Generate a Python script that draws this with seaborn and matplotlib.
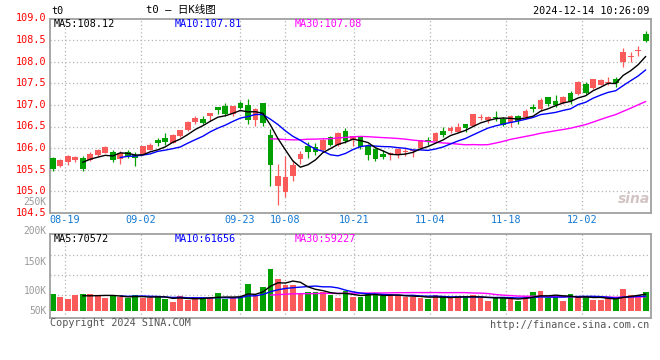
import numpy as np
import pandas as pd
import matplotlib
matplotlib.use("Agg")
import matplotlib.pyplot as plt
import matplotlib.transforms as mtransforms
import seaborn as sns

# ---------------- data ----------------
opens = [105.77, 105.58, 105.67, 105.72, 105.78, 105.73, 105.85, 105.89, 105.92, 105.75,
         105.92, 105.85, 105.87, 105.96, 106.18, 106.24, 106.12, 106.27, 106.41, 106.61,
         106.67, 106.75, 106.95, 106.97, 106.78, 107.05, 107.00, 106.65, 107.04, 106.31,
         105.12, 104.98, 105.36, 105.74, 106.05, 106.02, 105.96, 106.25, 106.08, 106.40,
         106.19, 106.25, 106.04, 105.97, 105.87, 105.84, 105.86, 105.91, 105.93, 106.00,
         106.20, 106.17, 106.39, 106.39, 106.38, 106.56, 106.52, 106.69, 106.65, 106.72,
         106.67, 106.58, 106.75, 106.73, 106.95, 106.90, 107.18, 107.08, 107.05, 107.28,
         107.25, 107.48, 107.40, 107.46, 107.50, 107.59, 108.00, 108.10, 108.25, 108.64]
highs = [105.79, 105.75, 105.84, 105.81, 105.82, 105.92, 105.98, 106.05, 105.96, 105.93,
         105.95, 105.90, 106.06, 106.12, 106.24, 106.35, 106.33, 106.42, 106.62, 106.75,
         106.75, 106.82, 106.96, 107.05, 106.98, 107.08, 107.14, 106.92, 107.05, 106.44,
         105.63, 105.81, 105.72, 105.94, 106.15, 106.12, 106.23, 106.28, 106.37, 106.47,
         106.29, 106.28, 106.10, 106.00, 105.95, 105.90, 106.00, 106.00, 106.00, 106.20,
         106.26, 106.37, 106.50, 106.52, 106.58, 106.57, 106.80, 106.78, 106.75, 106.85,
         106.72, 106.76, 106.76, 106.90, 107.02, 107.16, 107.19, 107.23, 107.21, 107.33,
         107.55, 107.52, 107.60, 107.59, 107.64, 107.64, 108.32, 108.23, 108.36, 108.72]
lows = [105.48, 105.56, 105.61, 105.69, 105.48, 105.71, 105.83, 105.88, 105.69, 105.64,
        105.77, 105.58, 105.86, 105.95, 106.06, 106.07, 106.11, 106.26, 106.40, 106.57,
        106.55, 106.64, 106.78, 106.75, 106.75, 106.90, 106.57, 106.52, 106.52, 105.12,
        104.68, 104.87, 105.25, 105.64, 105.77, 105.85, 105.92, 106.04, 106.06, 106.13,
        106.06, 105.98, 105.73, 105.70, 105.75, 105.72, 105.77, 105.83, 105.80, 105.98,
        106.08, 106.14, 106.26, 106.35, 106.37, 106.38, 106.51, 106.65, 106.59, 106.62,
        106.52, 106.50, 106.56, 106.67, 106.84, 106.87, 106.98, 106.95, 107.02, 107.02,
        107.23, 107.25, 107.38, 107.45, 107.45, 107.42, 107.88, 108.00, 108.13, 108.45]
closes = [105.52, 105.72, 105.81, 105.80, 105.52, 105.87, 105.96, 106.02, 105.73, 105.88,
          105.81, 105.77, 106.04, 106.08, 106.11, 106.15, 106.30, 106.41, 106.61, 106.69,
          106.59, 106.81, 106.88, 106.78, 106.97, 106.92, 106.65, 106.90, 106.59, 105.62,
          105.36, 105.33, 105.62, 105.87, 105.90, 105.92, 106.18, 106.08, 106.35, 106.16,
          106.27, 106.02, 105.85, 105.75, 105.79, 105.88, 105.97, 105.93, 105.95, 106.19,
          106.15, 106.35, 106.31, 106.46, 106.48, 106.46, 106.79, 106.73, 106.73, 106.70,
          106.54, 106.75, 106.64, 106.87, 106.90, 107.12, 107.03, 107.00, 107.18, 107.08,
          107.52, 107.28, 107.59, 107.58, 107.53, 107.50, 108.22, 108.13, 108.28, 108.48]
# volume in lots
volumes = [71000, 58000, 50000, 67000, 71000, 71000, 61000, 55000, 67000, 58000,
           53000, 67000, 55000, 55000, 64000, 51000, 38000, 64000, 44000, 58000,
           54000, 54000, 75000, 50000, 57000, 60000, 114000, 67000, 101000, 177000,
           135000, 109000, 109000, 75000, 81000, 81000, 81000, 67000, 55000, 84000,
           60000, 58000, 77000, 67000, 61000, 66000, 63000, 60000, 60000, 55000,
           50400, 64700, 57100, 52300, 63700, 57100, 64700, 55200, 42800, 54200,
           54200, 54200, 42800, 57100, 79900, 83700, 52300, 58000, 42800, 73050,
           60100, 60100, 44900, 44900, 53700, 47700, 91400, 66600, 66600, 80560]
date_ticks_idx = [2, 12, 25, 31, 40, 50, 60, 70]
date_ticks_lbl = ["08-19", "09-02", "09-23", "10-08", "10-21", "11-04", "11-18", "12-02"]
price_ticks = [104.5, 105.0, 105.5, 106.0, 106.5, 107.0, 107.5, 108.0, 108.5, 109.0]
vol_labels = ["250K", "200K", "150K", "100K", "50K"]
title_text = "t0 \u2013 日K线图"
symbol_text = "t0"
stamp_text = "2024-12-14 10:26:09"

# ---------------- styling ----------------
sns.set_theme(style="white")
plt.rcParams["font.family"] = ["DejaVu Sans Mono", "Noto Sans CJK SC"]

RED = "#FA5A5A"
GREEN = "#00A000"
GRID = "#B4B4B4"
BORDER = "#A0A0A0"
FS = 7.3

W, H = 660, 360
fig = plt.figure(figsize=(W / 100, H / 100), dpi=100)
fig.patch.set_facecolor("white")


def fx(px):
    return px / W


def fy(py):
    return 1 - py / H


L, R = 50.5, 650.5
P_TOP, P_BOT = 18.5, 213.0
V_TOP, V_BOT = 234.3, 318.3
ax = fig.add_axes([fx(L), fy(P_BOT), (R - L) / W, (P_BOT - P_TOP) / H])
axv = fig.add_axes([fx(L), fy(V_BOT), (R - L) / W, (V_BOT - V_TOP) / H])

df = pd.DataFrame({"o": opens, "h": highs, "l": lows, "c": closes,
                   "v": np.array(volumes, dtype=float) / 1000.0})
df["i"] = np.arange(len(df))
df["up"] = df["c"] >= df["o"]
df["col"] = np.where(df["up"], RED, GREEN)

step = 7.506  # px per candle
x0 = -(52.7 - L) / step
x1 = len(df) - 1 + (R - 645.7) / step

grid_x = [1.6 + 1.013 * (k - 2) for k in date_ticks_idx]

for a in (ax, axv):
    a.set_xlim(x0, x1)
    for s in a.spines.values():
        s.set_color(BORDER)
        s.set_linewidth(1.3)
    a.set_facecolor("white")
    for gx in grid_x:
        a.axvline(gx, color=GRID, lw=0.9, ls=(0, (1, 2)), zorder=0)

# ---------- price panel ----------
ax.set_ylim(104.5, 109.0)
for p in price_ticks[1:-1]:
    ax.axhline(p, color=GRID, lw=0.9, ls=(0, (1, 2)), zorder=0)
ax.set_yticks(price_ticks)
ax.set_yticklabels([f"{p:.1f}" for p in price_ticks], color="#FF0000", fontsize=FS)
ax.tick_params(axis="y", length=0, pad=3)
up_shift = mtransforms.ScaledTranslation(0, 1.2 / 100, fig.dpi_scale_trans)
for lab in ax.get_yticklabels():
    lab.set_transform(lab.get_transform() + up_shift)
ax.set_xticks(grid_x)
ax.set_xticklabels(date_ticks_lbl, color="#1478D2", fontsize=FS)
ax.tick_params(axis="x", length=0, pad=1.5)

body_w = 0.76
min_h = 0.022
ax.vlines(df["i"], df["l"], df["h"], colors=df["col"], lw=0.9, zorder=2)
bodies = np.maximum((df["c"] - df["o"]).abs(), min_h)
ax.bar(df["i"], bodies, bottom=np.minimum(df["o"], df["c"]), width=body_w,
       color=df["col"], linewidth=0, zorder=3)

ma = pd.DataFrame({"i": df["i"]})
ma["MA5"] = df["c"].rolling(5).mean()
ma["MA10"] = df["c"].rolling(10).mean()
ma["MA30"] = df["c"].rolling(30).mean()
for name, colr in (("MA30", "#FF00FF"), ("MA10", "#0000FF"), ("MA5", "#000000")):
    sns.lineplot(data=ma.dropna(subset=[name]), x="i", y=name, ax=ax, color=colr,
                 lw=1.0, zorder=4, legend=False)
ax.set_xlabel("")
ax.set_ylabel("")

last = ma.iloc[-1]
fig.text(fx(54), fy(24), f"MA5:{last['MA5']:.2f}", color="black", fontsize=FS, va="center")
fig.text(fx(175), fy(24), f"MA10:{last['MA10']:.2f}", color="#0000FF", fontsize=FS, va="center")
fig.text(fx(295), fy(24), f"MA30:{last['MA30']:.2f}", color="#FF00FF", fontsize=FS, va="center")

# ---------- volume panel ----------
VOL_BASE_PX = 310.7
VOL_SCALE = 0.235  # px per K
axv.set_ylim(-(V_BOT - VOL_BASE_PX) / VOL_SCALE, (VOL_BASE_PX - V_TOP) / VOL_SCALE)
for gy in (255.0, 275.0, 295.0):
    axv.axhline((VOL_BASE_PX - gy) / VOL_SCALE, color=GRID, lw=0.9, ls=(0, (1, 2)), zorder=0)
axv.set_xticks([])
axv.set_yticks([])
axv.bar(df["i"], df["v"], width=body_w, color=df["col"], linewidth=0, zorder=2)
vma = pd.DataFrame({"i": df["i"]})
vma["MA5"] = pd.Series(volumes).rolling(5).mean()
vma["MA10"] = pd.Series(volumes).rolling(10).mean()
vma["MA30"] = pd.Series(volumes).rolling(30).mean()
for name, colr in (("MA30", "#FF00FF"), ("MA10", "#0000FF"), ("MA5", "#000000")):
    d = vma.dropna(subset=[name]).copy()
    d[name] = d[name] / 1000.0
    sns.lineplot(data=d, x="i", y=name, ax=axv, color=colr, lw=1.0, zorder=4, legend=False)
axv.set_xlabel("")
axv.set_ylabel("")
vl = vma.iloc[-1]
fig.text(fx(54), fy(238.5), f"MA5:{vl['MA5']:.0f}", color="black", fontsize=FS, va="center")
fig.text(fx(175), fy(238.5), f"MA10:{vl['MA10']:.0f}", color="#0000FF", fontsize=FS, va="center")
fig.text(fx(295), fy(238.5), f"MA30:{vl['MA30']:.0f}", color="#FF00FF", fontsize=FS, va="center")

for lbl, py in zip(vol_labels, (201.6, 231.0, 261.7, 290.7, 310.7)):
    fig.text(fx(46.5), fy(py), lbl, color="#9A9A9A", fontsize=FS - 0.4, ha="right", va="center")

# ---------- header / footer ----------
fig.text(fx(51), fy(11.5), symbol_text, color="black", fontsize=FS, va="center")
fig.text(fx(181), fy(10.5), title_text, color="black", fontsize=FS + 0.3, va="center", ha="center")
fig.text(fx(649.5), fy(11.5), stamp_text, color="black", fontsize=FS, va="center", ha="right")
fig.text(fx(50), fy(323.5), "Copyright 2024 SINA.COM", color="#555555", fontsize=FS, va="center")
fig.text(fx(649.5), fy(324.5), "http://finance.sina.com.cn", color="#555555", fontsize=FS,
         va="center", ha="right")
fig.text(fx(634), fy(199), "sina", color="#D2C4C4", fontsize=10, fontweight="bold",
         style="italic", va="center", ha="center", family="DejaVu Sans")

fig.savefig("out.png", dpi=100, facecolor="white")
